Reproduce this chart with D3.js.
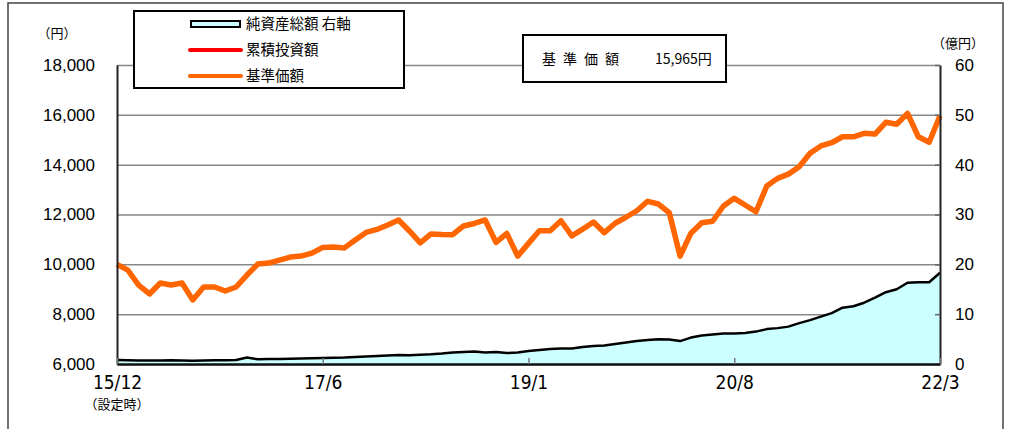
<!DOCTYPE html>
<html>
<head>
<meta charset="utf-8">
<script src="https://cdn.jsdelivr.net/npm/d3@7"></script>
<style>
  body { margin: 0; background: #fff; }
  svg text { font-family: "Liberation Sans", Arial, sans-serif; fill: #000; }
  .jp { font-family: "Noto Sans CJK JP", sans-serif; }
  .narrow { font-family: "Liberation Sans Narrow", "DejaVu Sans Condensed", sans-serif; font-stretch: condensed; }
</style>
</head>
<body>
<div id="chart"></div>
<script>
// 基準価額 (円) - monthly, index 0 = 設定時
const navPrice = [10000, 9770, 9170, 8810, 9250, 9170, 9250, 8570, 9090, 9090,
  8930, 9090, 9570, 10010, 10050, 10170, 10290, 10330, 10450, 10680,
  10700, 10660, 10980, 11280, 11400, 11580, 11780, 11340, 10860, 11220,
  11200, 11190, 11540, 11640, 11780, 10880, 11240, 10330, 10840, 11350,
  11350, 11750, 11140, 11410, 11700, 11270, 11650, 11890, 12150, 12530,
  12420, 12070, 10330, 11250, 11670, 11730, 12340, 12650, 12380, 12110,
  13140, 13450, 13620, 13920, 14460, 14750, 14880, 15120, 15120, 15260,
  15230, 15700, 15620, 16060, 15120, 14900, 15965];

// 純資産総額 (億円)
const netAssets = [0.8, 0.75, 0.7, 0.7, 0.7, 0.75, 0.7, 0.65, 0.7, 0.75,
  0.75, 0.8, 1.3, 0.95, 1.0, 1.0, 1.05, 1.1, 1.15, 1.2,
  1.25, 1.3, 1.4, 1.5, 1.6, 1.7, 1.8, 1.75, 1.85, 1.95,
  2.1, 2.3, 2.4, 2.5, 2.3, 2.4, 2.2, 2.3, 2.6, 2.8,
  3.0, 3.1, 3.1, 3.4, 3.6, 3.7, 4.0, 4.3, 4.6, 4.8,
  4.95, 4.9, 4.6, 5.3, 5.7, 5.9, 6.1, 6.1, 6.2, 6.5,
  7.0, 7.2, 7.5, 8.2, 8.8, 9.5, 10.2, 11.3, 11.6, 12.3,
  13.3, 14.4, 15.0, 16.3, 16.4, 16.4, 18.3];

const xTickIdx = [0, 19, 38, 57, 76];
const xTickLabels = ["15/12", "17/6", "19/1", "20/8", "22/3"];
const leftTicks = [6000, 8000, 10000, 12000, 14000, 16000, 18000];
const rightTicks = [0, 10, 20, 30, 40, 50, 60];
const legendItems = ["純資産総額 右軸", "累積投資額", "基準価額"];
const latestPrice = "15,965円";

const W = 1009, H = 429;
const plot = {left: 117, right: 940, top: 65, bottom: 364};

const svg = d3.select("#chart").append("svg")
  .attr("width", W).attr("height", H);

// outer frame
svg.append("rect")
  .attr("x", 8).attr("y", 3).attr("width", 995).attr("height", 440)
  .attr("fill", "none").attr("stroke", "#444").attr("stroke-width", 1.5);

const x = d3.scaleLinear().domain([0, navPrice.length - 1]).range([plot.left, plot.right]);
const yL = d3.scaleLinear().domain([6000, 18000]).range([plot.bottom, plot.top]);
const yR = d3.scaleLinear().domain([0, 60]).range([plot.bottom, plot.top]);

// grid lines
svg.append("g")
  .attr("transform", `translate(${plot.left},0)`)
  .call(d3.axisLeft(yL).tickValues(leftTicks).tickSize(-(plot.right - plot.left)).tickFormat(""))
  .call(g => g.select(".domain").remove())
  .selectAll("line").attr("stroke", "#888").attr("stroke-width", 1.5);

// net assets area
svg.append("path")
  .datum(netAssets)
  .attr("fill", "#ccffff")
  .attr("d", d3.area().x((d, i) => x(i)).y0(yR(0)).y1(d => yR(d)));

svg.append("path")
  .datum(netAssets)
  .attr("fill", "none").attr("stroke", "#000").attr("stroke-width", 2.5)
  .attr("stroke-linejoin", "round")
  .attr("d", d3.line().x((d, i) => x(i)).y(d => yR(d)));

// 基準価額 line
svg.append("path")
  .datum(navPrice)
  .attr("fill", "none").attr("stroke", "#ff6600").attr("stroke-width", 5.5)
  .attr("stroke-linejoin", "round")
  .attr("d", d3.line().x((d, i) => x(i)).y(d => yL(d)));

// left axis
const gl = svg.append("g")
  .attr("transform", `translate(${plot.left},0)`)
  .call(d3.axisLeft(yL).tickValues(leftTicks).tickSize(0).tickPadding(22).tickFormat(d3.format(",")));
gl.select(".domain").attr("stroke", "#222").attr("stroke-width", 2);
gl.selectAll("text").attr("font-size", 17).style("font-family", '"Liberation Sans", Arial, sans-serif');

// right axis
const gr = svg.append("g")
  .attr("transform", `translate(${plot.right},0)`)
  .call(d3.axisRight(yR).tickValues(rightTicks).tickSizeInner(-5).tickSizeOuter(0).tickPadding(15));
gr.select(".domain").attr("stroke", "#222").attr("stroke-width", 2);
gr.selectAll(".tick line").attr("stroke", "#666").attr("stroke-width", 1.5);
gr.selectAll("text").attr("font-size", 17).attr("text-anchor", "start").style("font-family", '"Liberation Sans", Arial, sans-serif');

// bottom axis
const gb = svg.append("g")
  .attr("transform", `translate(0,${plot.bottom})`)
  .call(d3.axisBottom(x).tickValues(xTickIdx).tickSizeInner(-6).tickSizeOuter(0).tickPadding(12)
    .tickFormat((d, i) => xTickLabels[i]));
gb.select(".domain").attr("stroke", "#111").attr("stroke-width", 2.5);
gb.selectAll(".tick line").attr("stroke", "#777").attr("stroke-width", 1.5);
gb.selectAll("text").attr("font-size", 19).attr("class", "narrow");

svg.append("text").attr("class", "jp")
  .attr("x", x(0)).attr("y", 409).attr("text-anchor", "middle")
  .attr("font-size", 13).text("（設定時）");

// unit labels
svg.append("text").attr("class", "jp")
  .attr("x", 57).attr("y", 38).attr("text-anchor", "middle")
  .attr("font-size", 13).text("（円）");
svg.append("text").attr("class", "jp")
  .attr("x", 958).attr("y", 48).attr("text-anchor", "middle")
  .attr("font-size", 13).text("（億円）");

// legend
const lg = svg.append("g");
lg.append("rect")
  .attr("x", 134).attr("y", 11).attr("width", 270).attr("height", 77)
  .attr("fill", "#fff").attr("stroke", "#000").attr("stroke-width", 2);
const legRows = [24, 50, 76];
lg.append("rect")
  .attr("x", 191).attr("y", legRows[0] - 3).attr("width", 49).attr("height", 6)
  .attr("fill", "#ccffff").attr("stroke", "#000").attr("stroke-width", 2);
lg.append("line")
  .attr("x1", 190).attr("x2", 241).attr("y1", legRows[1]).attr("y2", legRows[1])
  .attr("stroke", "#ff0000").attr("stroke-width", 4).attr("stroke-linecap", "round");
lg.append("line")
  .attr("x1", 190).attr("x2", 241).attr("y1", legRows[2]).attr("y2", legRows[2])
  .attr("stroke", "#ff6600").attr("stroke-width", 4).attr("stroke-linecap", "round");
lg.selectAll("text.leg")
  .data(legendItems)
  .join("text")
  .attr("class", "jp leg")
  .attr("x", 246).attr("y", (d, i) => legRows[i])
  .attr("dy", "0.35em").attr("font-size", 14.5)
  .text(d => d);

// latest price box
svg.append("rect")
  .attr("x", 523).attr("y", 35).attr("width", 203).attr("height", 47)
  .attr("fill", "#fff").attr("stroke", "#000").attr("stroke-width", 2);
svg.append("text").attr("class", "jp")
  .attr("x", 542).attr("y", 59).attr("dy", "0.35em")
  .attr("font-size", 14).attr("letter-spacing", "7px").text("基準価額");
svg.append("text").attr("class", "jp")
  .attr("x", 655).attr("y", 59).attr("dy", "0.35em")
  .attr("font-size", 14).text(latestPrice);
</script>
</body>
</html>
